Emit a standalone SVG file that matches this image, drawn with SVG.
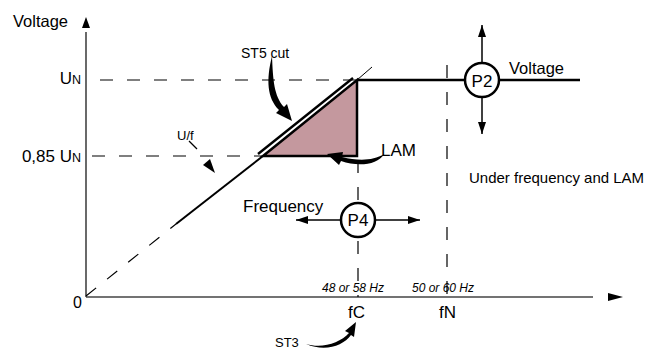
<svg xmlns="http://www.w3.org/2000/svg" width="658" height="352" viewBox="0 0 658 352">
<style>
text{font-family:"Liberation Sans",Arial,sans-serif;fill:#000}
.axis{stroke:#444;stroke-width:1.6;fill:none}
.dash{stroke:#000;stroke-width:1.2;stroke-dasharray:13 14;fill:none}
.thick{stroke:#000;stroke-width:2.5;fill:none}
.thin{stroke:#000;stroke-width:1.5;fill:none}
.node{fill:#fff;stroke:#000;stroke-width:2.5}
.it{font-style:italic;font-size:12px}
</style>
<defs>
<marker id="ah" viewBox="0 0 12 8" refX="12" refY="4" markerWidth="12" markerHeight="8" markerUnits="userSpaceOnUse" orient="auto"><path d="M0,0 L12,4 L0,8 Z" fill="#000"/></marker>
</defs>
<rect width="658" height="352" fill="#fff"/>
<g id="axes">
<line class="axis" x1="86" y1="32" x2="86" y2="297"/>
<polygon points="86,17 82,28 90,28" fill="#000"/>
<line class="axis" x1="86" y1="297" x2="593" y2="297"/>
<polygon points="623,297 608,293 608,301" fill="#000"/>
<text x="13" y="27" font-size="16.5">Voltage</text>
<text x="73" y="308" font-size="16">0</text>
<text x="81" y="84" font-size="17" text-anchor="end">U<tspan font-size="12.5">N</tspan></text>
<text x="81" y="162" font-size="17" text-anchor="end">0,85 U<tspan font-size="12.5">N</tspan></text>
</g>
<g id="guides">
<line class="dash" x1="100" y1="80" x2="358" y2="80"/>
<line class="dash" x1="92" y1="156" x2="262" y2="156"/>
<line class="dash" x1="447" y1="65" x2="447" y2="297"/>
<line class="dash" x1="358" y1="160" x2="358" y2="297"/>
<line class="dash" x1="86" y1="296" x2="176" y2="224" stroke-dasharray="12 9"/>
</g>
<g id="curve">
<line x1="176" y1="224" x2="263" y2="156" stroke="#000" stroke-width="2"/>
<polygon points="263,156 357,80 357,156" fill="#c4989e" stroke="#000" stroke-width="2.5" stroke-linejoin="miter"/>
<line class="thick" x1="258" y1="154" x2="353" y2="78"/>
<line x1="357" y1="80" x2="372" y2="67" stroke="#000" stroke-width="1"/>
<line class="thick" x1="357" y1="80" x2="580" y2="80"/>
</g>
<g id="connectors">
<line class="thin" x1="482" y1="63" x2="482" y2="25" marker-end="url(#ah)"/>
<line class="thin" x1="482" y1="97" x2="482" y2="134" marker-end="url(#ah)"/>
<line class="thin" x1="341" y1="220" x2="296" y2="220" marker-end="url(#ah)"/>
<line class="thin" x1="375" y1="220" x2="420" y2="220" marker-end="url(#ah)"/>
<line x1="189" y1="141" x2="197" y2="149" stroke="#000" stroke-width="1.2"/>
<polygon points="215,173 203,165 210,159" fill="#000"/>
<path d="M272,56 C266,80 267,98 279,110 L276,113 L292,121 L287,104 L284,107 C274,96 273,80 272,56 Z" fill="#000"/>
<path d="M384,154 C378,165 358,167 341,161 L339,165 L327,154 L343,152 L342,157 C358,161 373,161 384,154 Z" fill="#000"/>
<path d="M306,344 C322,349 340,343 349,333 L345,331 L356,322 L354,337 L351,335 C343,346 325,352 306,344 Z" fill="#000"/>
</g>
<g id="P2">
<circle class="node" cx="482" cy="80" r="17"/>
<text x="482" y="87" font-size="17" text-anchor="middle">P2</text>
</g>
<g id="P4">
<circle class="node" cx="358" cy="220" r="17"/>
<text x="358" y="226" font-size="17" text-anchor="middle">P4</text>
</g>
<g id="labels">
<text x="241" y="58" font-size="14">ST5 cut</text>
<text x="177" y="140" font-size="13">U/f</text>
<text x="381" y="156" font-size="17">LAM</text>
<text x="509" y="74" font-size="16.5">Voltage</text>
<text x="469" y="183" font-size="15">Under frequency and LAM</text>
<text x="243" y="212" font-size="17">Frequency</text>
<text x="322" y="292" class="it">48 or 58 Hz</text>
<text x="412" y="292" class="it">50 or 60 Hz</text>
<text x="348" y="318" font-size="17">fC</text>
<text x="439" y="318" font-size="17">fN</text>
<text x="275" y="347" font-size="13">ST3</text>
</g>
</svg>
